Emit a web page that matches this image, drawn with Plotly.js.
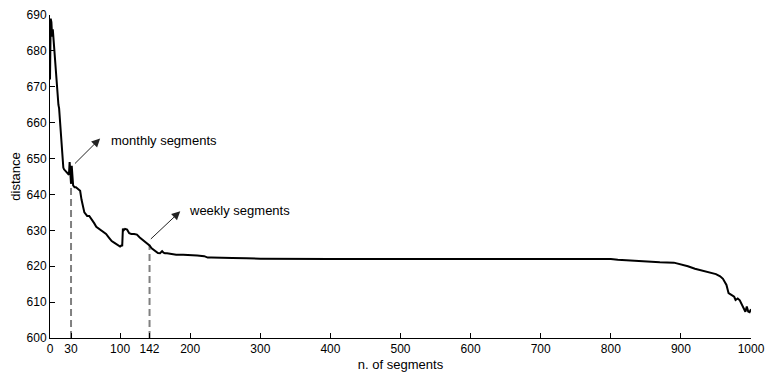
<!DOCTYPE html>
<html>
<head>
<meta charset="utf-8">
<script src="https://cdn.plot.ly/plotly-3.0.1.min.js"></script>
<style>html,body{margin:0;padding:0;background:#fff;}#chart{width:765px;height:375px;}</style>
</head>
<body>
<div id="chart"></div>
<script>
// n. of segments
const segments = [0,0.5,1,2,3,4,5,6,7,8,9,10,11,12,13,14,15,16,17,18,19,20,22,24,26,27,28,29,30,31,32,33,35,37,40,43,45,47,49,51,53,56,60,63,66,70,73,76,80,84,88,92,96,100,102,103,104,105,107,110,113,116,120,124,128,131,134,137,140,142,145,148,151,154,157,160,162,164,167,170,175,180,190,200,210,220,225,230,240,260,280,300,400,500,600,700,780,800,810,830,850,870,890,900,910,920,930,940,950,956,960,965,968,972,976,978,981,984,987,990,992,994,996,998,1000];
// distance
const distance = [672,689,689,688,684,686,683,682,680,676,673,670,668,665,664,661,658,656,653,650,647.5,647,646.5,646,645.5,645.5,649,645,643,648,643,642.5,642,642,641.5,641,638.5,636.5,635,634.5,634,634,633,632,631,630.5,630,629.5,629,628,627,626.5,626,625.5,625.8,625.6,630.5,630,630.4,630.2,629.2,629,629,628.8,628,627.5,627,626.5,626,625.8,625,624.5,624,623.7,623.6,624.2,623.8,623.6,623.6,623.5,623.5,623.2,623.2,623.2,623.0,622.8,622.4,622.4,622.3,622.3,622.2,622.1,622,622,622,622,622.1,622,621.8,621.5,621.2,621.1,621,620.6,620,619.3,618.8,618.4,617.8,617.2,616.5,614.8,612.5,612,611.5,610.6,611,610.5,609.3,608,607.3,608.8,607.4,607.2,608];
// marked segment counts and the distance reached there
const markX = [30, 142];
const markY = [644, 626];
const markLabels = ['monthly segments', 'weekly segments'];
const xTicks = [0,30,100,142,200,300,400,500,600,700,800,900,1000];
const yTicks = [600,610,620,630,640,650,660,670,680,690];

const traces = [];
markX.forEach((mx, i) => {
  traces.push({x:[mx,mx], y:[600, markY[i]], mode:'lines', line:{color:'#808080', width:2, dash:'7px,4px'}, hoverinfo:'skip'});
});
traces.push({x:segments, y:distance, mode:'lines', line:{color:'#000', width:2}});

const fnt = {family:'Liberation Sans, Arial, sans-serif', size:13, color:'#000'};
const tickFnt = {family:'Liberation Sans, Arial, sans-serif', size:12, color:'#000'};
// arrow geometry (tail on curve, head offset) and label placement
const arrows = [
  {hx:71.5, hy:655.6, tx:33.5, ty:648.2, lx:84.8, ly:655},
  {hx:185.8, hy:635.3, tx:141.7, ty:627.2, lx:194.8, ly:635.4}
];
const annotations = [];
arrows.forEach((a, i) => {
  annotations.push({x:a.hx, y:a.hy, ax:a.tx, ay:a.ty, axref:'x', ayref:'y', xref:'x', yref:'y', text:'', showarrow:true, arrowhead:2, arrowsize:1.7, arrowwidth:1, arrowcolor:'#222'});
  annotations.push({x:a.lx, y:a.ly, xref:'x', yref:'y', text:markLabels[i], showarrow:false, xanchor:'left', yanchor:'middle', font:fnt});
});

const layout = {
  width:765, height:375,
  margin:{l:50, r:14, t:15, b:37},
  paper_bgcolor:'#fff', plot_bgcolor:'#fff',
  showlegend:false,
  font:fnt,
  xaxis:{range:[0,1000], tickvals:xTicks, ticktext:xTicks.map(String), ticks:'inside', ticklen:5, tickcolor:'#000', showline:true, linecolor:'#000', linewidth:1, showgrid:false, zeroline:false, tickfont:tickFnt, ticklabeloverflow:'allow', title:{text:'n. of segments', font:fnt, standoff:4}},
  yaxis:{range:[600,690], tickvals:yTicks, ticks:'inside', ticklen:5, tickcolor:'#000', showline:true, linecolor:'#000', linewidth:1, showgrid:false, zeroline:false, tickfont:tickFnt, ticklabeloverflow:'allow', title:{text:'distance', font:fnt, standoff:3}},
  annotations:annotations
};
Plotly.newPlot('chart', traces, layout, {staticPlot:true});
</script>
</body>
</html>
